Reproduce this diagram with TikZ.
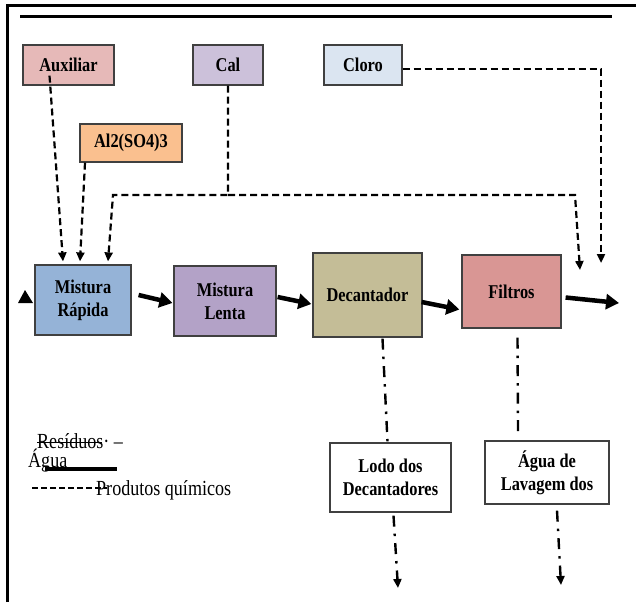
\documentclass[tikz,border=0pt]{standalone}
\usepackage{fontspec}
\setmainfont[FakeStretch=0.84]{Liberation Serif}
\usetikzlibrary{arrows.meta,calc}

\tikzset{
  caixa/.style={draw=black!75, line width=1.2pt, align=center, inner sep=2pt,
    font=\bfseries\fontsize{19.5}{23}\selectfont},
  quimico/.style={line width=2.2pt, dash pattern=on 7pt off 4pt,
    -{Triangle[length=9pt,width=8pt]}},
  fluxo/.style={line width=4.5pt, -{Triangle[length=13pt,width=15pt]}},
  residuo/.style={line width=2.4pt, dash pattern=on 11pt off 7pt on 2.5pt off 7pt,
    -{Triangle[length=9pt,width=8pt]}},
  legenda/.style={font=\fontsize{21.5}{23}\selectfont, inner sep=0pt}
}

\begin{document}
\begin{tikzpicture}[x=1pt, y=-1pt]
\useasboundingbox (0,0) rectangle (636,602);
% moldura
\draw[line width=3pt] (7,602) -- (7,6) -- (636,6);
\draw[line width=3pt] (20,17) -- (612,17);

% produtos quimicos
\node[caixa, fill={rgb,255:red,230;green,185;blue,184}, minimum width=91pt, minimum height=40pt] (aux) at (68.5,65) {Auxiliar};
\node[caixa, fill={rgb,255:red,204;green,193;blue,218}, minimum width=70pt, minimum height=40pt] (cal) at (228,65) {Cal};
\node[caixa, fill={rgb,255:red,219;green,229;blue,241}, minimum width=78pt, minimum height=40pt] (cloro) at (363,65) {Cloro};
\node[caixa, fill={rgb,255:red,250;green,192;blue,143}, minimum width=102pt, minimum height=38pt] (al) at (131,143) {Al2(SO4)3};

% etapas
\node[caixa, fill={rgb,255:red,149;green,179;blue,215}, minimum width=96pt, minimum height=70pt] (mr) at (83,300) {Mistura\\Rápida};
\node[caixa, fill={rgb,255:red,179;green,162;blue,199}, minimum width=102pt, minimum height=70pt] (ml) at (225,301) {Mistura\\Lenta};
\node[caixa, fill={rgb,255:red,196;green,189;blue,151}, minimum width=109pt, minimum height=84pt] (dec) at (367.5,295) {Decantador};
\node[caixa, fill={rgb,255:red,217;green,150;blue,148}, minimum width=99pt, minimum height=73pt] (fil) at (511.5,291.5) {Filtros};

% residuos
\node[caixa, fill=white, minimum width=121pt, minimum height=69pt] (lodo) at (390.5,477.5) {Lodo dos\\Decantadores};
\node[caixa, fill=white, minimum width=124pt, minimum height=63pt] (agua) at (547,472.5) {Água de\\Lavagem dos};

\coordinate (tee) at (228,195);
\coordinate (fim1) at (580,270);
\coordinate (fim2) at (601,263);
\coordinate (saida) at (619,303);
\coordinate (lodofim) at (398,588);
\coordinate (aguafim) at (561,585);

% linhas tracejadas
\draw[quimico] ([shift={(-19,-10)}]aux.south) -- ([shift={(-20,-3)}]mr.north);
\draw[quimico] ([shift={(-46,0)}]al.south) -- ([shift={(-3,-3)}]mr.north);
\draw[quimico] (cal.south) -- (tee) -- (113,195) -- ([shift={(25,-3)}]mr.north);
\draw[quimico] (tee) -- (575,195) -- (fim1);
\draw[quimico] ([shift={(0,4)}]cloro.east) -- (601,69) -- (fim2);

% fluxo principal
\fill (18,303) -- (33,303) -- (25,290) -- cycle;
\draw[fluxo] ([shift={(7,-5)}]mr.east) -- ([shift={(-1,2)}]ml.west);
\draw[fluxo] ([shift={(1,-4)}]ml.east) -- ([shift={(-1,9)}]dec.west);
\draw[fluxo] ([shift={(-1,7)}]dec.east) -- ([shift={(-2,18)}]fil.west);
\draw[fluxo] ([shift={(4,6)}]fil.east) -- (saida);

% saidas de residuo
\draw[residuo, -] ([shift={(15,1)}]dec.south) -- ([shift={(-3,-1)}]lodo.north);
\draw[residuo] ([shift={(3,3)}]lodo.south) -- (lodofim);
\draw[residuo, -] ([shift={(6,9)}]fil.south) -- ([shift={(-29,-9)}]agua.north);
\draw[residuo] ([shift={(10,6)}]agua.south) -- (aguafim);

% legenda
\node[legenda, anchor=base west] (lres) at (37,448) {Resíduos· –};
\draw[line width=0.8pt] (37,442) -- (102,442);
\node[legenda, anchor=base west] (lagua) at (28,467) {Água};
\draw[line width=4pt] (45,469) -- (117,469);
\draw[line width=2pt, dash pattern=on 6pt off 3pt] (32,488) -- (107,488);
\node[legenda, anchor=base west] (lprod) at (96,495) {Produtos químicos};
\end{tikzpicture}
\end{document}
